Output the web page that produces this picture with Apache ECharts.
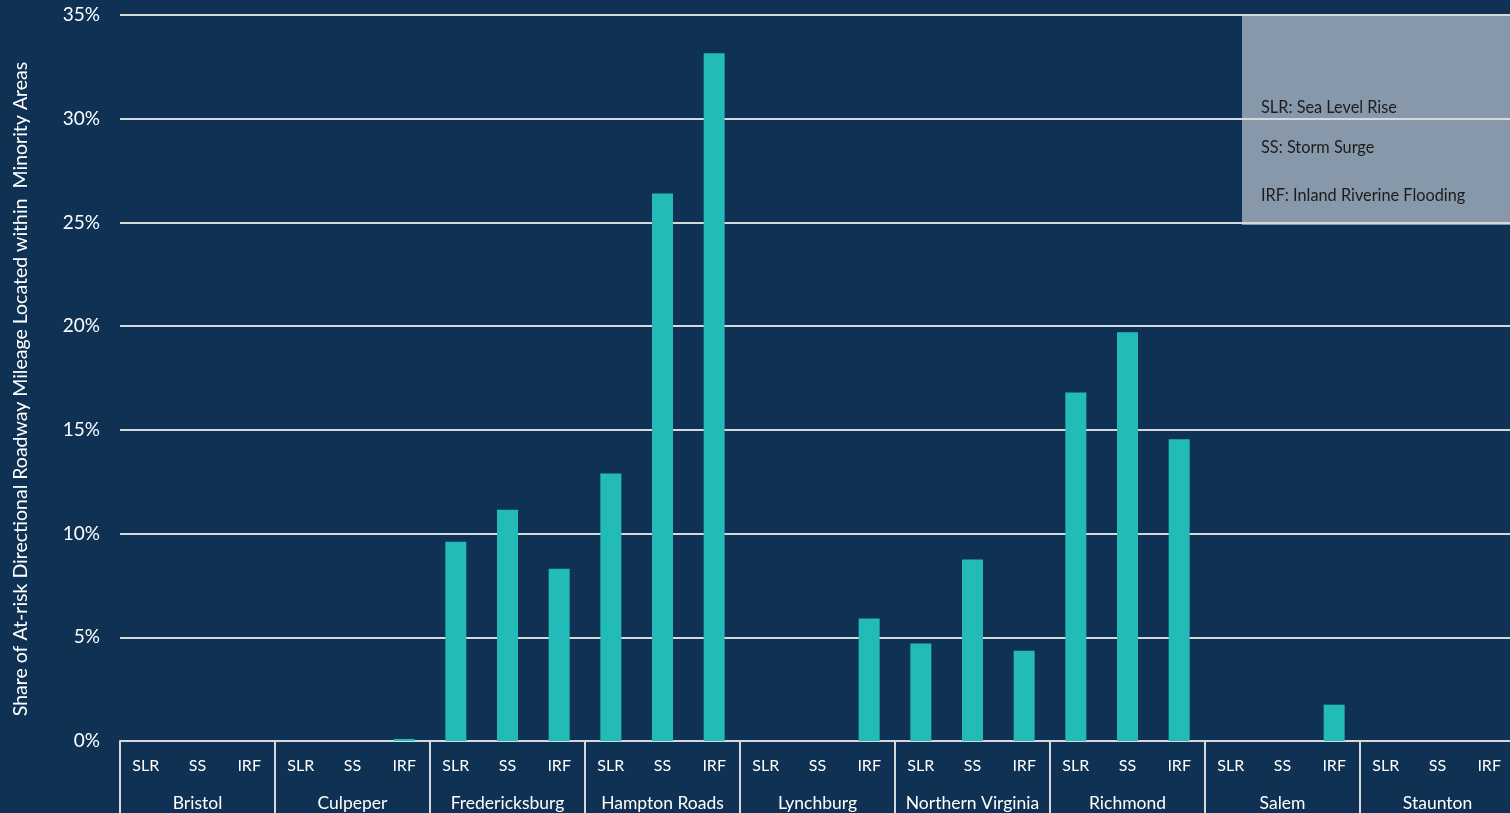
<!DOCTYPE html>
<html>
<head>
<meta charset="utf-8">
<script src="https://cdn.jsdelivr.net/npm/echarts@6/dist/echarts.min.js"></script>
<style>
	html, body { margin: 0; padding: 0; background: #0f3254; }
	#chart { width: 1510px; height: 813px; }
</style>
</head>
<body>
<div id="chart"></div>
<script>
'use strict';
var regions = ['Bristol', 'Culpeper', 'Fredericksburg', 'Hampton Roads', 'Lynchburg', 'Northern Virginia', 'Richmond', 'Salem', 'Staunton'];
var hazards = ['SLR', 'SS', 'IRF'];
// share (%) per region, in order SLR, SS, IRF
var slrValues = [0, 0, 9.6, 12.9, 0, 4.7, 16.8, 0, 0];
var ssValues = [0, 0, 11.15, 26.4, 0, 8.75, 19.7, 0, 0];
var irfValues = [0, 0.1, 8.3, 33.15, 5.9, 4.35, 14.55, 1.75, 0];
var yTitle = 'Share of At-risk Directional Roadway Mileage Located within  Minority Areas';
var legendLines = ['SLR: Sea Level Rise', 'SS: Storm Surge', 'IRF: Inland Riverine Flooding'];

var subLabels = [];
var values = [];
for (var i = 0; i < regions.length; i++) {
	subLabels.push(hazards[0], hazards[1], hazards[2]);
	values.push(slrValues[i], ssValues[i], irfValues[i]);
}

var FONT = 'Lato, "Open Sans", sans-serif';
var lineColor = '#d6d9dc';

var option = {
	backgroundColor: '#0f3254',
	animation: false,
	grid: {
		left: 120,
		top: 15,
		width: 1395,
		height: 726,
		outerBoundsMode: 'none'
	},
	xAxis: [
		{
			type: 'category',
			data: subLabels,
			axisLine: { lineStyle: { color: lineColor, width: 2 } },
			axisTick: {
				show: true,
				interval: function (index) { return index % 3 === 0; },
				length: 75,
				lineStyle: { color: lineColor, width: 2 }
			},
			axisLabel: {
				color: '#ffffff',
				fontFamily: FONT,
				fontSize: 16,
				margin: 17,
				interval: 0
			}
		},
		{
			type: 'category',
			data: regions,
			position: 'bottom',
			axisLine: { show: false },
			axisTick: { show: false },
			axisLabel: {
				color: '#ffffff',
				fontFamily: FONT,
				fontSize: 17.5,
				margin: 53,
				interval: 0
			}
		}
	],
	yAxis: {
		type: 'value',
		min: 0,
		max: 35,
		interval: 5,
		axisLine: { show: false },
		axisTick: { show: false },
		axisLabel: {
			formatter: '{value}%',
			color: '#ffffff',
			fontFamily: FONT,
			fontSize: 19,
			margin: 20
		},
		splitLine: { lineStyle: { color: lineColor, width: 2 } }
	},
	graphic: [
		{
			type: 'text', x: 21, y: 389, rotation: Math.PI / 2,
			style: { text: yTitle, fill: '#ffffff', font: '19.5px ' + FONT, textAlign: 'center', textVerticalAlign: 'middle' }
		},
		{
			type: 'rect',
			z: -1,
			shape: { x: 1242, y: 15, width: 268, height: 210 },
			style: { fill: '#8898ab' }
		},
		{
			type: 'text', z: 10, x: 1261, y: 108,
			style: { text: legendLines[0], fill: '#1c1c1c', font: '16.3px ' + FONT, textVerticalAlign: 'middle' }
		},
		{
			type: 'text', z: 10, x: 1261, y: 148,
			style: { text: legendLines[1], fill: '#1c1c1c', font: '16.3px ' + FONT, textVerticalAlign: 'middle' }
		},
		{
			type: 'text', z: 10, x: 1261, y: 196,
			style: { text: legendLines[2], fill: '#1c1c1c', font: '16.3px ' + FONT, textVerticalAlign: 'middle' }
		}
	],
	series: [
		{
			type: 'bar',
			xAxisIndex: 0,
			data: values,
			barWidth: 21,
			itemStyle: { color: '#22bbb8' }
		}
	]
};

var chart = echarts.init(document.getElementById('chart'));
chart.setOption(option);
</script>
</body>
</html>
